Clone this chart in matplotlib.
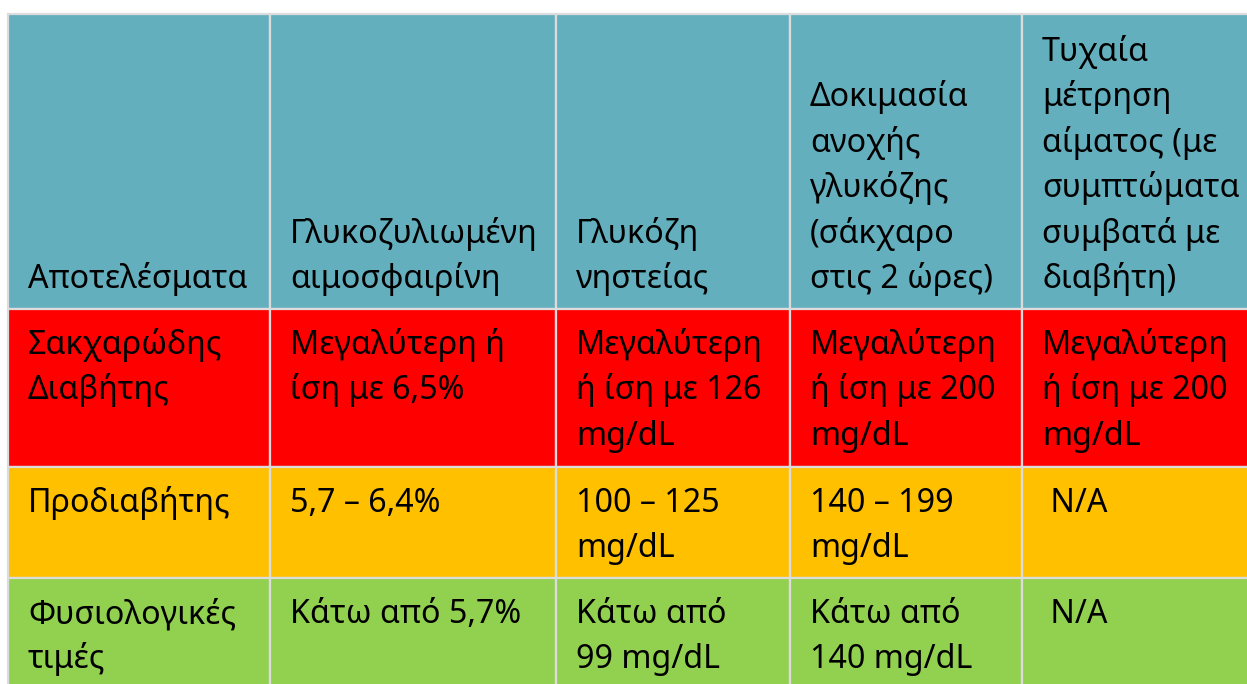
import matplotlib
matplotlib.use('Agg')
import matplotlib.pyplot as plt
from matplotlib.patches import Rectangle

headers = ["Αποτελέσματα",
           "Γλυκοζυλιωμένη\nαιμοσφαιρίνη",
           "Γλυκόζη\nνηστείας",
           "Δοκιμασία\nανοχής\nγλυκόζης\n(σάκχαρο\nστις 2 ώρες)",
           "Τυχαία\nμέτρηση\nαίματος (με\nσυμπτώματα\nσυμβατά με\nδιαβήτη)"]
row_labels = ["Σακχαρώδης\nΔιαβήτης", "Προδιαβήτης", "Φυσιολογικές\nτιμές"]
hba1c = ["Μεγαλύτερη ή\nίση με 6,5%", "5,7 – 6,4%", "Κάτω από 5,7%"]
fasting = ["Μεγαλύτερη\nή ίση με 126\nmg/dL", "100 – 125\nmg/dL", "Κάτω από\n99 mg/dL"]
ogtt = ["Μεγαλύτερη\nή ίση με 200\nmg/dL", "140 – 199\nmg/dL", "Κάτω από\n140 mg/dL"]
random_test = ["Μεγαλύτερη\nή ίση με 200\nmg/dL", " N/A", " N/A"]

header_color = "#64AFBD"
row_colors = ["#FF0000", "#FFC000", "#92D050"]
border_color = "#DCDCDC"

W, H = 1247, 684
fig = plt.figure(figsize=(W / 100, H / 100), dpi=100)
ax = fig.add_axes([0, 0, 1, 1])
ax.set_xlim(0, W)
ax.set_ylim(H, 0)
ax.axis('off')

col_edges = [8, 270, 556, 790, 1022, 1262]
row_edges = [14, 309, 467, 578, 700]
pad_x = 20
line_h = 45.4
font = dict(family=['Noto Sans', 'DejaVu Sans'], fontsize=23.2, color='black')

columns = [row_labels, hba1c, fasting, ogtt, random_test]

def cell(c, r, color):
    x0, x1 = col_edges[c], col_edges[c + 1]
    y0, y1 = row_edges[r], row_edges[r + 1]
    ax.add_patch(Rectangle((x0, y0), x1 - x0, y1 - y0, facecolor=color,
                           edgecolor=border_color, linewidth=1.6))

# header
for c, txt in enumerate(headers):
    cell(c, 0, header_color)
    lines = txt.split('\n')
    base = 288
    for i, ln in enumerate(reversed(lines)):
        ax.text(col_edges[c] + pad_x, base - i * line_h, ln, va='baseline', ha='left', **font)

# body
for r in range(3):
    for c in range(5):
        cell(c, r + 1, row_colors[r])
        lines = columns[c][r].split('\n')
        base = row_edges[r + 1] + 45
        for i, ln in enumerate(lines):
            ax.text(col_edges[c] + pad_x, base + i * line_h, ln, va='baseline', ha='left', **font)

fig.savefig('out.png', dpi=100, facecolor='white')
